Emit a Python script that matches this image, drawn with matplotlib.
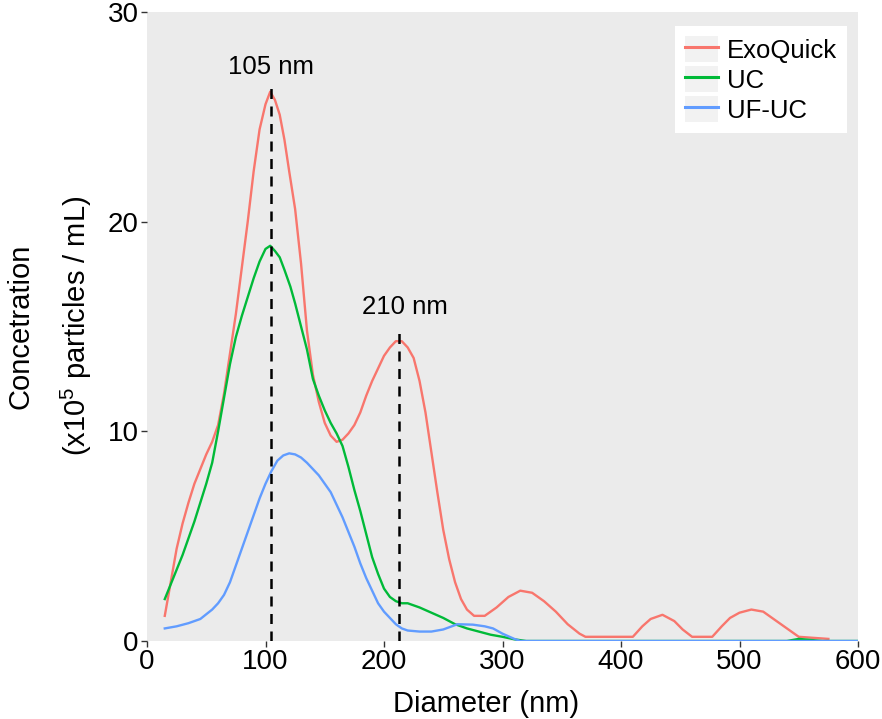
import matplotlib
matplotlib.use("Agg")
import matplotlib.pyplot as plt
from matplotlib.patches import Rectangle
from matplotlib.lines import Line2D
from matplotlib.legend_handler import HandlerTuple

plt.rcParams['font.family'] = ['Liberation Sans', 'DejaVu Sans']
plt.rcParams['mathtext.fontset'] = 'custom'
plt.rcParams['mathtext.rm'] = 'Liberation Sans'
plt.rcParams['mathtext.it'] = 'Liberation Sans'

# ---- data ----
exo_x = [15, 20, 25, 30, 35, 40, 45, 50, 55, 60, 65, 70, 75, 80, 85, 90, 95, 100, 104,
         108, 112, 116, 120, 125, 130, 135, 140, 145, 150, 155, 160, 165, 170, 175, 180,
         185, 190, 195, 200, 205, 210, 215, 220, 225, 230, 235, 240, 245, 250, 255, 260,
         265, 270, 276, 285, 295, 305, 315, 325, 335, 345, 355, 365, 370, 410, 418, 425,
         435, 445, 452, 460, 477, 485, 492, 500, 510, 520, 530, 540, 550, 575]
exo_y = [1.2, 2.8, 4.4, 5.6, 6.6, 7.5, 8.2, 8.9, 9.5, 10.3, 11.8, 13.7, 15.6, 17.8, 20.0,
         22.4, 24.4, 25.6, 26.2, 25.8, 25.1, 23.9, 22.4, 20.6, 18.0, 14.8, 12.7, 11.4, 10.4,
         9.8, 9.5, 9.6, 9.9, 10.3, 10.9, 11.7, 12.4, 13.0, 13.6, 14.0, 14.3, 14.3, 14.0, 13.5,
         12.4, 10.9, 9.0, 7.1, 5.3, 3.9, 2.8, 2.0, 1.5, 1.2, 1.2, 1.6, 2.1, 2.4, 2.3, 1.9,
         1.4, 0.8, 0.35, 0.2, 0.2, 0.7, 1.05, 1.25, 0.95, 0.55, 0.2, 0.2, 0.7, 1.1, 1.35,
         1.5, 1.4, 1.0, 0.6, 0.2, 0.1]

uc_x = [15, 20, 25, 30, 35, 40, 45, 50, 55, 60, 65, 70, 75, 80, 85, 90, 95, 100, 104, 108,
        112, 116, 121, 125, 130, 135, 140, 145, 150, 155, 160, 165, 170, 175, 180, 185, 190,
        195, 200, 205, 210, 215, 220, 225, 230, 240, 250, 260, 270, 280, 290, 300, 310, 320,
        540, 550, 560, 570, 600]
uc_y = [2.0, 2.7, 3.4, 4.1, 4.9, 5.7, 6.6, 7.5, 8.5, 10.0, 11.6, 13.2, 14.5, 15.5, 16.4,
        17.3, 18.1, 18.7, 18.85, 18.6, 18.3, 17.7, 16.9, 16.1, 15.0, 13.9, 12.5, 11.7, 11.0,
        10.4, 9.9, 9.3, 8.3, 7.2, 6.2, 5.1, 4.0, 3.2, 2.5, 2.1, 1.9, 1.8, 1.8, 1.7, 1.6,
        1.35, 1.1, 0.8, 0.6, 0.45, 0.3, 0.2, 0.08, 0.0, 0.0, 0.1, 0.05, 0.0, 0.0]

ufuc_x = [15, 25, 35, 45, 55, 60, 65, 70, 75, 80, 85, 90, 95, 100, 105, 110, 115, 120, 125,
          130, 135, 140, 145, 150, 155, 160, 165, 170, 175, 180, 185, 190, 195, 200, 205,
          210, 215, 220, 230, 240, 250, 262, 275, 285, 292, 300, 310, 315, 600]
ufuc_y = [0.6, 0.7, 0.85, 1.05, 1.5, 1.8, 2.2, 2.8, 3.6, 4.4, 5.2, 6.0, 6.8, 7.5, 8.1, 8.6,
          8.85, 8.95, 8.9, 8.75, 8.5, 8.2, 7.9, 7.5, 7.1, 6.5, 5.9, 5.2, 4.5, 3.7, 3.0, 2.4,
          1.8, 1.4, 1.1, 0.8, 0.6, 0.5, 0.45, 0.45, 0.55, 0.8, 0.78, 0.7, 0.6, 0.35, 0.1,
          0.0, 0.0]

series_names = ["ExoQuick", "UC", "UF-UC"]
series_colors = ["#F8766D", "#00BA38", "#619CFF"]

peak_x = [104.5, 213]
peak_top = [26.5, 14.8]
peak_labels = ["105 nm", "210 nm"]
label_pos_x = [105, 218]
label_pos_y = [27.4, 15.95]

x_ticks = [0, 100, 200, 300, 400, 500, 600]
y_ticks = [0, 10, 20, 30]

# ---- figure ----
fig = plt.figure(figsize=(8.82, 7.19), dpi=100)
ax = fig.add_axes([147/882, 1 - 641/719, (858 - 147)/882, (641 - 12)/719])
ax.set_facecolor("#EBEBEB")
for s in ax.spines.values():
    s.set_visible(False)

xs = [exo_x, uc_x, ufuc_x]
ys = [exo_y, uc_y, ufuc_y]
lines = []
for x, y, c, n in zip(xs, ys, series_colors, series_names):
    ln, = ax.plot(x, y, color=c, lw=1.7, label=n, solid_joinstyle='round', zorder=3)
    lines.append(ln)

for px, pt, lab, lx, ly in zip(peak_x, peak_top, peak_labels, label_pos_x, label_pos_y):
    ax.plot([px, px], [0, pt], color="black", lw=1.8, dashes=(4, 3), zorder=4)
    ax.text(lx, ly, lab, ha="center", va="center", fontsize=18.5, color="black")

ax.set_xlim(0, 600)
ax.set_ylim(0, 30)
ax.set_xticks(x_ticks)
ax.set_yticks(y_ticks)
ax.tick_params(axis="both", length=4, width=1.0, color="#333333", labelsize=20,
               labelcolor="black", pad=2)

# legend with gray key backgrounds
handles = []
for ln in lines:
    bg = Rectangle((0, 0), 1, 1, facecolor="#F2F2F2", edgecolor="none")
    l2 = Line2D([0, 1], [0, 0], color=ln.get_color(), lw=2.2)
    handles.append((bg, l2))
leg = ax.legend(handles, series_names, handler_map={tuple: HandlerTuple(ndivide=1, pad=0)},
                loc="upper right", bbox_to_anchor=(0.9845, 0.978), fontsize=18.5,
                frameon=True, fancybox=False, framealpha=1, edgecolor="white",
                facecolor="white", handlelength=1.25, handleheight=1.2,
                labelspacing=0.12, handletextpad=0.35, borderpad=0.4, borderaxespad=0)
leg.get_frame().set_linewidth(0)

fig.text(486/882, 1 - 712/719, "Diameter (nm)", ha="center", va="baseline", fontsize=21)
fig.text(21/882, 1 - 326/719, "Concetration", rotation=90, ha="center", va="center",
         fontsize=21)
fig.text(76/882, 1 - 326/719, "(x10$^{5}$ particles / mL)", rotation=90, ha="center",
         va="center", fontsize=21)

fig.savefig("out.png", dpi=100)
